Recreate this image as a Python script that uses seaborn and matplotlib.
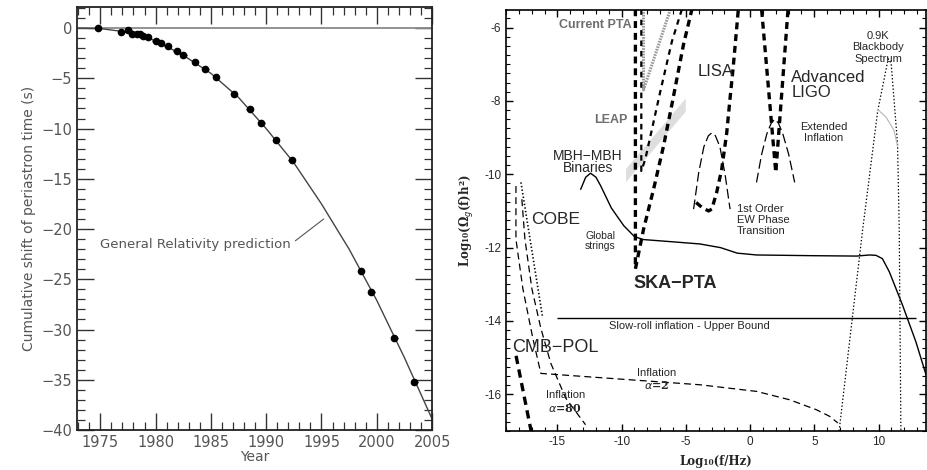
import numpy as np
import matplotlib
matplotlib.use("Agg")
import matplotlib.pyplot as plt
from matplotlib.ticker import MultipleLocator
import seaborn as sns

# ---------------- left panel data (Hulse-Taylor pulsar) ----------------
obs_years = [1974.8, 1976.9, 1977.55, 1977.9, 1978.3, 1978.6, 1978.9, 1979.3,
             1980.0, 1980.5, 1981.1, 1981.9, 1982.5, 1983.55, 1984.5, 1985.45,
             1987.1, 1988.5, 1989.55, 1990.9, 1992.3, 1998.57, 1999.5, 2001.6, 2003.4]
obs_shift = [0.05, -0.4, -0.16, -0.55, -0.55, -0.6, -0.75, -0.9,
             -1.3, -1.45, -1.8, -2.3, -2.7, -3.4, -4.1, -4.9,
             -6.55, -8.05, -9.4, -11.1, -13.15, -24.2, -26.25, -30.85, -35.2]
gr_years = [1972.9, 1975, 1977.5, 1980, 1982.5, 1985, 1987.5, 1990, 1992.5,
            1995, 1997.5, 2000, 2002.5, 2005]
gr_shift = [0.0, -0.05, -0.4, -1.25, -2.7, -4.5, -6.9, -10.0, -13.4,
            -17.5, -22.0, -27.1, -32.8, -38.9]
gr_label = "General Relativity prediction"
gr_label_pos = (1975.0, -21.5)
gr_label_tip = (1995.2, -19.0)

# ---------------- right panel data (GW spectrum) ----------------
ska_x = [-8.93, -8.93, -8.29, -7.51, -6.74, -6.09, -5.19, -4.53]
ska_y = [-5.5, -12.58, -11.49, -10.40, -9.23, -8.10, -6.47, -5.5]
leap_x = [-8.47, -8.47, -8.16, -6.99, -6.09, -5.31]
leap_y = [-5.5, -9.91, -9.59, -7.74, -6.38, -5.5]
pta_x = [-8.3, -8.3, -6.2]
pta_y = [-5.5, -7.7, -5.5]
band_x = [-9.7, -5.05]
band_lo = [-10.2, -8.28]
band_hi = [-9.84, -7.92]
lisa_x = [-4.2, -3.76, -3.24, -2.98, -2.6, -2.21, -1.82, -1.57, -1.31, -0.92]
lisa_y = [-10.77, -10.9, -11.0, -10.95, -10.49, -9.86, -8.87, -7.96, -7.06, -5.52]
ligo_x = [0.9, 2.0, 2.95]
ligo_y = [-5.52, -9.95, -5.52]
ew_x = [-4.4, -4.0, -3.6, -3.25, -2.98, -2.7, -2.35, -1.95, -1.56]
ew_y = [-10.95, -9.95, -9.25, -8.95, -8.87, -8.95, -9.25, -10.0, -10.95]
ext_x = [0.5, 0.9, 1.3, 1.65, 1.92, 2.2, 2.55, 3.0, 3.47]
ext_y = [-10.22, -9.45, -8.9, -8.6, -8.5, -8.6, -8.9, -9.45, -10.22]
bb_x = [6.93, 8.77, 9.93, 10.75, 10.98, 11.48, 11.61, 11.74]
bb_y = [-17.0, -11.49, -8.28, -6.85, -6.97, -9.18, -11.49, -17.0]
bbg_x = [9.93, 10.6, 11.2, 11.48]
bbg_y = [-8.23, -8.45, -8.8, -9.23]
gs_x = [-13.19, -12.8, -12.42, -12.0, -11.64, -10.8, -9.84, -9.0, -8.3, -5.7,
        -3.9, -2.3, -1.0, 0.5, 5.0, 8.3, 9.3, 9.8, 10.3, 10.84, 11.87, 12.9, 13.7]
gs_y = [-10.41, -10.08, -9.97, -10.08, -10.31, -10.92, -11.4, -11.7, -11.78, -11.85,
        -11.9, -12.0, -12.15, -12.2, -12.22, -12.23, -12.2, -12.21, -12.3, -12.66,
        -13.57, -14.56, -15.47]
slowroll_y = -13.92
slowroll_x = (-15.0, 12.9)
a2_x = [-18.23, -18.23, -17.69, -16.91, -16.29, -3.89, 0.5, 3.09, 5.16, 6.19, 6.83]
a2_y = [-10.32, -11.77, -13.12, -14.48, -15.43, -15.74, -15.92, -16.15, -16.42, -16.6, -16.78]
a80_x = [-17.77, -17.53, -16.99, -16.29, -15.52, -14.36, -12.81]
a80_y = [-10.68, -11.77, -13.12, -14.2, -15.15, -16.1, -16.83]
cobe_x = [-17.84, -16.16]
cobe_y = [-10.22, -13.89]
cmbpol_x = [-18.22, -17.05]
cmbpol_y = [-14.95, -17.0]

right_xticks = [-15, -10, -5, 0, 5, 10]
right_xlabels = ["-15", "-10", "-5", "0", "5", "10"]
right_yticks = [-6, -8, -10, -12, -14, -16]
right_ylabels = ["-6", "-8", "-10", "-12", "-14", "-16"]

sns.set_style("ticks")
plt.rcParams["lines.scale_dashes"] = False
plt.rcParams["font.family"] = ["DejaVu Sans"]

fig = plt.figure(figsize=(9.27, 4.70), dpi=100)
ax1 = fig.add_axes([0.0831, 0.0851, 0.3830, 0.9000])
ax2 = fig.add_axes([0.5459, 0.0830, 0.4531, 0.8957])

# ---------------- left panel ----------------
grey = "#555555"
ax1.axhline(0, color="#8a8a8a", lw=1.3, zorder=1)
sns.lineplot(x=gr_years, y=gr_shift, ax=ax1, color="#444444", lw=1.0,
             sort=False, estimator=None)
ax1.errorbar(obs_years, obs_shift, xerr=0.3, fmt="o", ms=4.5, color="black",
             elinewidth=1.0, capsize=0, zorder=3)
ax1.annotate(gr_label, xy=gr_label_tip, xytext=gr_label_pos, va="center", ha="left",
             fontsize=9.5, color=grey,
             arrowprops=dict(arrowstyle="-", color="#555555", lw=0.8,
                             relpos=(1.0, 0.5), shrinkA=1, shrinkB=0))
ax1.set_xlim(1972.9, 2005.0)
ax1.set_ylim(-40, 2.1)
ax1.xaxis.set_major_locator(MultipleLocator(5))
ax1.xaxis.set_minor_locator(MultipleLocator(1))
ax1.yaxis.set_major_locator(MultipleLocator(5))
ax1.yaxis.set_minor_locator(MultipleLocator(1))
ax1.tick_params(which="both", direction="in", top=True, right=True,
                color="#333333", labelcolor=grey, labelsize=10.5)
ax1.tick_params(which="major", length=12, width=1.0)
ax1.tick_params(which="minor", length=6, width=0.9)
ax1.set_xlabel("Year", color=grey, fontsize=10, labelpad=0)
ax1.set_ylabel("Cumulative shift of periastron time (s)", color=grey, fontsize=10, labelpad=4)
for s in ax1.spines.values():
    s.set_linewidth(1.3)
    s.set_color("#222222")

# ---------------- right panel ----------------
ax2.fill_between(band_x, band_lo, band_hi, color="#dedede", lw=0, zorder=1)
ax2.plot(pta_x, pta_y, color="#9a9a9a", lw=2.2, ls=(0, (1.2, 0.8)), zorder=2)
ax2.plot(ska_x, ska_y, color="black", lw=2.4, ls=(0, (5, 3.5)), zorder=3)
ax2.plot(leap_x, leap_y, color="black", lw=1.6, ls=(0, (4, 3.5)), zorder=3)
ax2.plot(lisa_x, lisa_y, color="black", lw=2.4, ls=(0, (5, 3.5)), zorder=3)
ax2.plot(ligo_x, ligo_y, color="black", lw=2.4, ls=(0, (5, 3.5)), zorder=3)
ax2.plot(ew_x, ew_y, color="black", lw=0.9, ls=(0, (7, 3)))
ax2.plot(ext_x, ext_y, color="black", lw=0.9, ls=(0, (7, 3)))
ax2.plot(bb_x, bb_y, color="black", lw=0.9, ls=(0, (1, 1.5)))
ax2.plot(bbg_x, bbg_y, color="#b5b5b5", lw=0.8)
sns.lineplot(x=gs_x, y=gs_y, ax=ax2, color="black", lw=1.0, sort=False, estimator=None)
ax2.hlines(slowroll_y, *slowroll_x, color="black", lw=1.0)
ax2.plot(a2_x, a2_y, color="black", lw=0.9, ls=(0, (5, 3)))
ax2.plot(a80_x, a80_y, color="black", lw=0.9, ls=(0, (5, 3)))
ax2.plot(cobe_x, cobe_y, color="black", lw=1.2, ls=(0, (1, 1.6)))
ax2.plot(cmbpol_x, cmbpol_y, color="black", lw=2.4, ls=(0, (6, 4)))

sans = ["Liberation Sans", "DejaVu Sans"]
ax2.text(-9.26, -5.93, "Current PTA", ha="right", va="center", fontsize=9,
         fontweight="bold", color="#6e6e6e", family=sans)
ax2.text(-9.55, -8.51, "LEAP", ha="right", va="center", fontsize=9,
         fontweight="bold", color="#6e6e6e", family=sans)
ax2.text(-12.61, -9.66, "MBH\u2212MBH\nBinaries", ha="center", va="center",
         fontsize=10, linespacing=0.85, family=sans)
ax2.text(-15.13, -11.22, "COBE", ha="center", va="center", fontsize=12.5, family=sans)
ax2.text(-11.64, -11.82, "Global\nstrings", ha="center", va="center", fontsize=7.5,
         linespacing=1.0, family=sans)
ax2.text(-9.06, -12.98, "SKA\u2212PTA", ha="left", va="center", fontsize=13,
         fontweight="bold", family=sans)
ax2.text(-2.69, -7.19, "LISA", ha="center", va="center", fontsize=12, family=sans)
ax2.text(3.22, -7.56, "Advanced\nLIGO", ha="left", va="center", fontsize=12,
         linespacing=0.95, family=sans)
ax2.text(5.72, -8.86, "Extended\nInflation", ha="center", va="center", fontsize=8,
         linespacing=1.05, family=sans)
ax2.text(-1.05, -11.25, "1st Order\nEW Phase\nTransition", ha="left", va="center",
         fontsize=8, linespacing=1.1, family=sans)
ax2.text(9.97, -6.54, "0.9K\nBlackbody\nSpectrum", ha="center", va="center",
         fontsize=8, linespacing=1.2, family=sans)
ax2.text(-4.73, -14.14, "Slow-roll inflation - Upper Bound", ha="center", va="center",
         fontsize=8, family=sans)
ax2.text(-15.2, -14.71, "CMB\u2212POL", ha="center", va="center", fontsize=13, family=sans)
ax2.text(-14.4, -16.02, "Inflation", ha="center", va="center", fontsize=8, family=sans)
ax2.text(-14.4, -16.37, r"$\alpha$=80", ha="center", va="center", fontsize=8,
         fontweight="bold", family="DejaVu Serif")
ax2.text(-7.25, -15.42, "Inflation", ha="center", va="center", fontsize=8, family=sans)
ax2.text(-7.25, -15.75, r"$\alpha$=2", ha="center", va="center", fontsize=8,
         fontweight="bold", family="DejaVu Serif")

ax2.set_xlim(-19, 13.7)
ax2.set_ylim(-17, -5.52)
ax2.set_xticks(right_xticks)
ax2.set_xticklabels(right_xlabels, family=sans)
ax2.set_yticks(right_yticks)
ax2.set_yticklabels(right_ylabels, family=sans)
ax2.xaxis.set_minor_locator(MultipleLocator(1))
ax2.yaxis.set_minor_locator(MultipleLocator(0.25))
ax2.tick_params(which="both", direction="in", top=True, right=True, labelsize=8.5,
                color="black")
ax2.tick_params(which="major", length=5, width=1.0)
ax2.tick_params(which="minor", length=3, width=0.8)
ax2.set_xlabel("Log\u2081\u2080(f/Hz)", family="DejaVu Serif", fontweight="bold",
               fontsize=8.5, labelpad=5)
ax2.set_ylabel("Log\u2081\u2080(\u03a9$_g$(f)h\u00b2)", family="DejaVu Serif",
               fontweight="bold", fontsize=8.5, labelpad=6)
for s in ax2.spines.values():
    s.set_linewidth(1.2)
    s.set_color("black")

fig.savefig("out.png", dpi=100)
